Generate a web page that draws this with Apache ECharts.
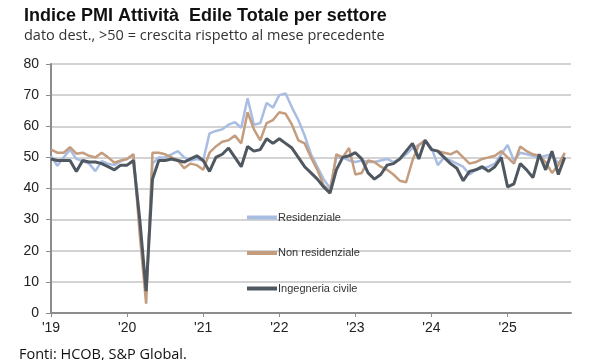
<!DOCTYPE html>
<html>
<head>
<meta charset="utf-8">
<script src="https://cdn.jsdelivr.net/npm/echarts@6/dist/echarts.min.js"></script>
<style>html,body{margin:0;padding:0;background:#fff;}#c{width:600px;height:360px;}</style>
</head>
<body>
<div id="c"></div>
<script>
// ---- Data (monthly, Jan 2019 - Oct 2025) ----
const startYear = 2019;
const endYear = 2025;
const endMonth = 11; // axis runs to Nov 2025 (index 82)
const yearLabels = ["'19", "'20", "'21", "'22", "'23", "'24", "'25"];
const seriesNames = ["Residenziale", "Non residenziale", "Ingegneria civile"];

const residenziale = [
  50.5, 47.3, 50, 52.5, 49.5, 48.8, 48, 45.6, 48.8, 48, 47.5, 48.8,
  49.5, 51, 28, 6, 48, 50, 50, 51, 52, 50, 49, 49.5,
  49, 57.7, 58.5, 59, 60.5, 61.3, 59.5, 69, 60.5, 61, 67.5, 66,
  70, 70.5, 66, 62, 57, 51, 47, 43, 40, 50, 50, 49,
  48.5, 49, 48.5, 48.5, 49, 49.5, 48.5, 49.5, 51, 53, 54, 55.5,
  53, 47.5, 50, 49, 48, 47, 44.5, 46, 46.5, 47, 48, 51,
  54, 49, 51.5, 51, 50.5, 50, 50.5, 51, 48, 51
];
const nonResidenziale = [
  52.5, 51.5, 51.5, 53.3, 51.2, 51.5, 50.5, 50, 51.5, 50, 48.3, 49,
  49.5, 51, 25, 3, 51.5, 51.5, 51, 50, 49, 46.5, 48, 47.5,
  46, 51.5, 53.5, 55, 55.5, 57, 54.5, 64.5, 59, 55.5, 61, 62,
  64.5, 64, 60.5, 55.5, 54.5, 50, 46, 41, 39, 51, 50, 53,
  44.5, 45, 49, 48.5, 47, 46, 44.5, 42.5, 42, 49, 54, 55.5,
  52.5, 52, 51.5, 51, 52, 50, 48, 48.5, 49.5, 50, 50.5, 52,
  50, 48, 53.5, 52, 51, 50.5, 48.5, 45, 47.5, 51.5
];
const ingegneriaCivile = [
  49.5, 49, 49, 49, 45.5, 49, 48.5, 48.5, 48, 47, 46, 47.5,
  47.5, 49, 30, 7, 43, 49, 49, 49.5, 49, 48.5, 49.5, 50.5,
  49, 45.5, 50, 51, 53, 50, 47, 53.5, 52, 52.5, 56, 54.5,
  56, 54.5, 53, 50, 47, 45, 43, 40.5, 38.5, 46, 50, 50.5,
  51.5, 49.5, 45, 43, 44.5, 47.5, 48, 49.5, 52, 54.5, 49.5, 55.5,
  52.5, 52, 50, 48, 46.5, 42.5, 45.5, 46, 47, 45.5, 47, 50,
  40.5, 41.5, 48, 46, 43.5, 51, 46, 52, 44.5, 50
];
const yTicks = { min: 0, max: 80, interval: 10 };

// ---- Build categories ----
const months = [];
for (let y = startYear; y <= endYear; y++) {
  const lastM = (y === endYear) ? endMonth : 12;
  for (let m = 1; m <= lastM; m++) months.push(y + '-' + (m < 10 ? '0' + m : m));
}

const colors = ['#a9bde3', '#c49c7e', '#4f5861'];
const chart = echarts.init(document.getElementById('c'), null, { renderer: 'canvas' });
const sans = '"Open Sans", "Noto Sans", sans-serif';
const arial = '"Liberation Sans", Arial, sans-serif';

chart.setOption({
  animation: false,
  backgroundColor: '#ffffff',
  title: [
    { text: 'Indice PMI Attività  Edile Totale per settore', left: 19, top: 2,
      textStyle: { fontFamily: arial, fontSize: 18, fontWeight: 'bold', color: '#111' } },
    { text: 'dato dest., >50 = crescita rispetto al mese precedente', left: 19, top: 23,
      textStyle: { fontFamily: sans, fontSize: 14.5, fontWeight: 'normal', color: '#333' } },
    { text: 'Fonti: HCOB, S&P Global.', left: 14, top: 342,
      textStyle: { fontFamily: sans, fontSize: 14.5, fontWeight: 'normal', color: '#111' } }
  ],
  legend: {
    orient: 'vertical', left: 242, top: 207,
    itemWidth: 30, itemHeight: 4, itemGap: 24.5, icon: 'rect',
    data: seriesNames,
    textStyle: { fontFamily: arial, fontSize: 11, color: '#333', padding: [0, 0, 0, -4] }
  },
  grid: { left: 51, right: 29, top: 64, bottom: 47, containLabel: false },
  xAxis: {
    type: 'category', data: months, boundaryGap: false,
    axisLine: { show: true, lineStyle: { color: '#8c8c8c', width: 2 } },
    axisTick: { show: true, alignWithLabel: true, length: 4, interval: (i) => i % 12 === 0,
      lineStyle: { color: '#8c8c8c', width: 1 } },
    axisLabel: { interval: (i) => i % 12 === 0, margin: 8,
      formatter: (v, i) => yearLabels[Math.floor(i / 12)] || '',
      fontFamily: arial, fontSize: 14, color: '#222' },
    splitLine: { show: false }
  },
  yAxis: {
    type: 'value', min: yTicks.min, max: yTicks.max, interval: yTicks.interval,
    axisLine: { show: true, lineStyle: { color: '#8c8c8c', width: 2 } },
    axisTick: { show: true, length: 5, lineStyle: { color: '#8c8c8c' } },
    axisLabel: { fontFamily: arial, fontSize: 14, color: '#222', margin: 12 },
    splitLine: { show: true, lineStyle: { color: '#c4c4c4', width: 1.5 } }
  },
  series: [
    { name: seriesNames[0], type: 'line', data: residenziale, showSymbol: false, z: 2,
      lineStyle: { color: colors[0], width: 2.5 }, itemStyle: { color: colors[0] } },
    { name: seriesNames[1], type: 'line', data: nonResidenziale, showSymbol: false, z: 3,
      lineStyle: { color: colors[1], width: 2.5 }, itemStyle: { color: colors[1] } },
    { name: seriesNames[2], type: 'line', data: ingegneriaCivile, showSymbol: false, z: 4,
      lineStyle: { color: colors[2], width: 3 }, itemStyle: { color: colors[2] } }
  ]
});
</script>
</body>
</html>
